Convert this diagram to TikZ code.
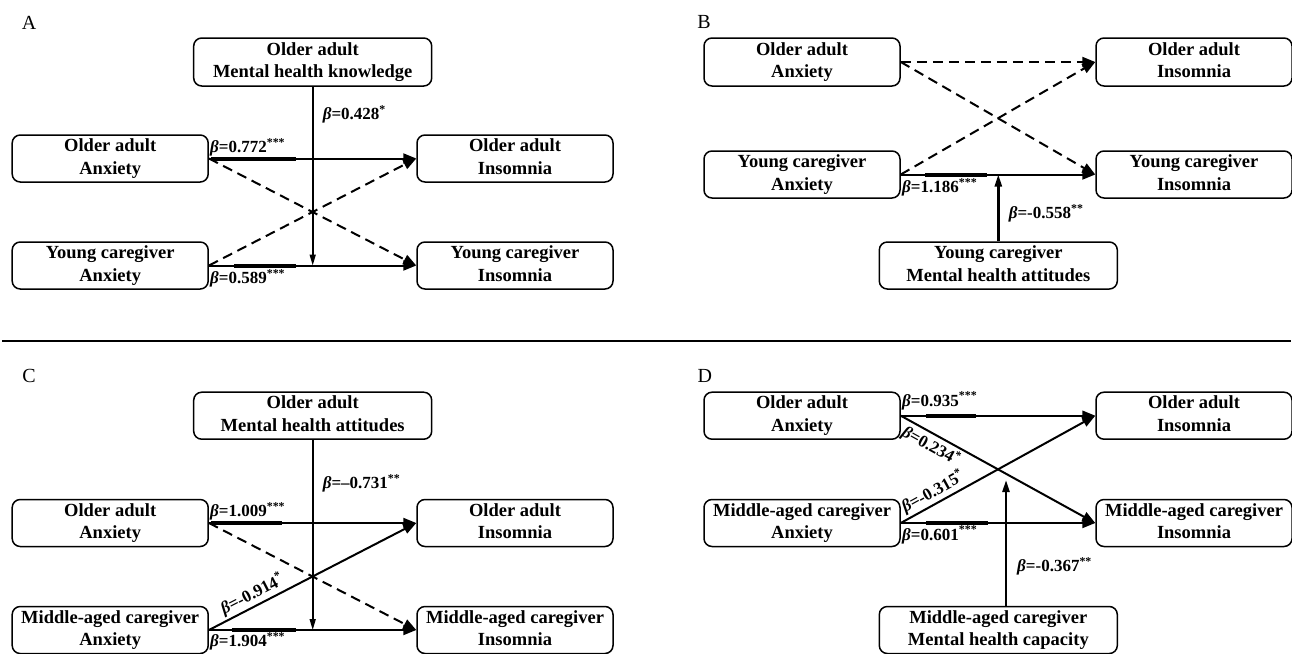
\documentclass[tikz,border=0pt]{standalone}
\usepackage{fontspec}
\setmainfont{Liberation Serif}
\usetikzlibrary{arrows.meta}
\newcommand\boxfont{\fontsize{18.5}{22.5}\selectfont\bfseries}
\newcommand\labfont{\fontsize{17}{20}\selectfont\bfseries}
\newcommand\letfont{\fontsize{20}{24}\selectfont}
\newcommand\bt{{\itshape β}}
\begin{document}
\begin{tikzpicture}[x=1pt,y=-1pt,
  box/.style={draw, line width=1.5pt, rounded corners=8pt, inner sep=0pt, align=center, font=\boxfont,
    execute at begin node={\rule{0pt}{21.5pt}}, execute at end node={\vphantom{Agy}}},
  sbox/.style={box, minimum width=196pt, minimum height=47pt},
  wbox/.style={box, minimum width=238pt, minimum height=47pt},
  arr/.style={line width=2pt, -{Triangle[length=13pt,width=10pt]}},
  dsh/.style={arr, dash pattern=on 10pt off 6pt},
  vline/.style={line width=1.6pt, -{Triangle[length=11pt,width=6pt]}},
  vthick/.style={line width=2.4pt, -{Triangle[length=12pt,width=7pt]}},
  thk/.style={line width=4pt},
  lab/.style={font=\labfont, inner sep=0pt},
  let/.style={font=\letfont, inner sep=0pt}]
\useasboundingbox (0,0) rectangle (1292,653);

% separator
\draw[line width=2.5pt] (2,341) -- (1291,341);

% ===== Panel A =====
\node[let] (LA) at (29,23) {A};
\node[wbox, minimum height=48pt] (Ak) at (312.7,62) {Older adult\\Mental health knowledge};
\node[sbox] (Aoa) at (110.2,158.5) {Older adult\\Anxiety};
\node[sbox] (Ayc) at (110.2,265.5) {Young caregiver\\Anxiety};
\node[sbox] (Aoi) at (515,158.5) {Older adult\\Insomnia};
\node[sbox] (Ayi) at (515,265.5) {Young caregiver\\Insomnia};
\draw[thk] ([xshift=2pt]Aoa.east) -- ++(84.6,0);
\draw[thk] ([xshift=24.8pt]Ayc.east) -- ++(61.8,0);
\draw[arr] (Aoa.east) -- (Aoi.west);
\draw[arr] (Ayc.east) -- (Ayi.west);
\draw[dsh] (Aoa.east) -- (Ayi.west);
\draw[dsh] (Ayc.east) -- (Aoi.west);
\draw[vline] (Ak.south) -- (Ak.south |- Ayc.east);
\node[lab, anchor=base west] (Ab1) at (322.6,119.3) {\bt=0.428\textsuperscript{*}};
\node[lab, anchor=base west] (Ab2) at (210,152.7) {\bt=0.772\textsuperscript{***}};
\node[lab, anchor=base west] (Ab3) at (210,283.3) {\bt=0.589\textsuperscript{***}};

% ===== Panel B =====
\node[let] (LB) at (704,22) {B};
\node[sbox, minimum height=48pt] (Boa) at (802,62) {Older adult\\Anxiety};
\node[sbox, minimum height=48pt] (Boi) at (1194,62) {Older adult\\Insomnia};
\node[sbox] (Byc) at (802,174.5) {Young caregiver\\Anxiety};
\node[sbox] (Byi) at (1194,174.5) {Young caregiver\\Insomnia};
\node[wbox] (Bmh) at (998.3,265.5) {Young caregiver\\Mental health attitudes};
\draw[thk] (925,174.5) -- (987,174.5);
\draw[dsh] (Boa.east) -- (Boi.west);
\draw[dsh] (Boa.east) -- (Byi.west);
\draw[dsh] (Byc.east) -- (Boi.west);
\draw[arr] (Byc.east) -- (Byi.west);
\draw[vthick] (Bmh.north) -- (Bmh.north |- Byc.east);
\node[lab, anchor=base west] (Bb1) at (902,192.7) {\bt=1.186\textsuperscript{***}};
\node[lab, anchor=base west] (Bb2) at (1008.6,218.3) {\bt=-0.558\textsuperscript{**}};

% ===== Panel C =====
\node[let] (LC) at (29,375.5) {C};
\node[wbox] (Cat) at (312.7,415.7) {Older adult\\Mental health attitudes};
\node[sbox] (Coa) at (110.2,523) {Older adult\\Anxiety};
\node[sbox] (Cma) at (110.2,630) {Middle-aged caregiver\\Anxiety};
\node[sbox] (Coi) at (515,523) {Older adult\\Insomnia};
\node[sbox] (Cmi) at (515,630) {Middle-aged caregiver\\Insomnia};
\draw[thk] ([xshift=2pt]Coa.east) -- ++(71,0);
\draw[thk] ([xshift=22.7pt]Cma.east) -- ++(63.9,0);
\draw[arr] (Coa.east) -- (Coi.west);
\draw[arr] (Cma.east) -- (Cmi.west);
\draw[dsh] (Coa.east) -- (Cmi.west);
\draw[arr] (Cma.east) -- node[lab, pos=0.235, sloped, above=2pt] (Cb3) {\bt=-0.914\textsuperscript{*}} (Coi.west);
\draw[vline] (Cat.south) -- (Cat.south |- Cma.east);
\node[lab, anchor=base west] (Cb1) at (322.6,488.3) {\bt=–0.731\textsuperscript{**}};
\node[lab, anchor=base west] (Cb2) at (210,516.7) {\bt=1.009\textsuperscript{***}};
\node[lab, anchor=base west] (Cb4) at (210,646.7) {\bt=1.904\textsuperscript{***}};

% ===== Panel D =====
\node[let] (LD) at (704.8,375.5) {D};
\node[sbox] (Doa) at (802,415.7) {Older adult\\Anxiety};
\node[sbox] (Doi) at (1194,415.7) {Older adult\\Insomnia};
\node[sbox] (Dma) at (802,523) {Middle-aged caregiver\\Anxiety};
\node[sbox] (Dmi) at (1194,523) {Middle-aged caregiver\\Insomnia};
\node[wbox] (Dmc) at (998.3,630) {Middle-aged caregiver\\Mental health capacity};
\draw[thk] (926,415.7) -- (975.6,415.7);
\draw[thk] (926,523) -- (988,523);
\draw[arr] (Doa.east) -- (Doi.west);
\draw[arr] (Dma.east) -- (Dmi.west);
\draw[arr] (Doa.east) -- node[lab, pos=0.185, sloped, below=2pt] (Db2) {\bt=0.234\textsuperscript{*}} (Dmi.west);
\draw[arr] (Dma.east) -- node[lab, pos=0.195, sloped, above=2pt] (Db3) {\bt=-0.315\textsuperscript{*}} (Doi.west);
\coordinate (Dtip) at (1006,480);
\draw[vthick] (Dmc.north -| Dtip) -- (Dtip);
\node[lab, anchor=base west] (Db1) at (902,406) {\bt=0.935\textsuperscript{***}};
\node[lab, anchor=base west] (Db4) at (902,540) {\bt=0.601\textsuperscript{***}};
\node[lab, anchor=base west] (Db5) at (1017,571.7) {\bt=-0.367\textsuperscript{**}};
\end{tikzpicture}
\end{document}
